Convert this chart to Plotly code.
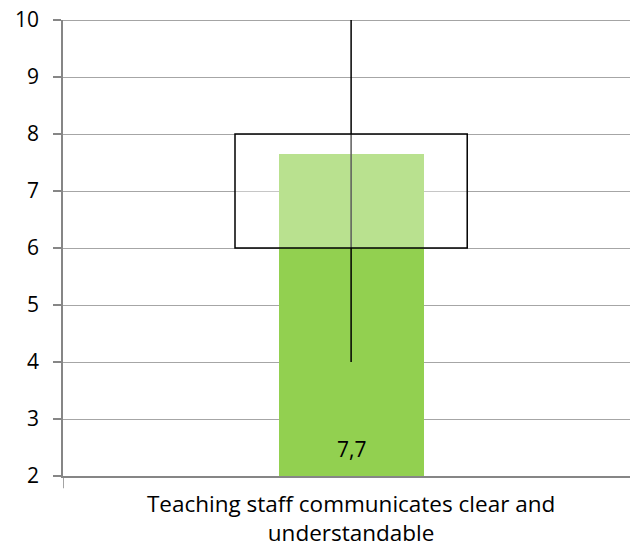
import plotly.graph_objects as go

categories = ["Teaching staff communicates clear and<br>understandable"]
mean_values = [7.65]
mean_labels = ["7,7"]
q1_values = [6]
q3_values = [8]
min_values = [4]
max_values = [10]

bar_width = 0.252
box_width = 0.403
FONT = "Open Sans"

fig = go.Figure()

fig.add_trace(go.Bar(
    x=[0], y=[v - 2 for v in mean_values], base=2, width=bar_width,
    marker=dict(color="#92D050", line=dict(width=0)),
    hoverinfo="skip", showlegend=False,
))

fig.add_trace(go.Scatter(
    x=[0, 0], y=[min_values[0], max_values[0]], mode="lines",
    line=dict(color="#000000", width=1.5), showlegend=False, hoverinfo="skip",
    cliponaxis=False,
))

fig.add_shape(type="rect", xref="x", yref="y",
              x0=-box_width / 2, x1=box_width / 2,
              y0=q1_values[0], y1=q3_values[0],
              fillcolor="rgba(255,255,255,0.36)",
              line=dict(color="#000000", width=1.5), layer="above")

fig.add_annotation(x=0, y=2, xref="x", yref="y", text=mean_labels[0],
                   showarrow=False, yanchor="bottom", yshift=11,
                   font=dict(family=FONT, size=21, color="#000000"))

fig.update_layout(
    width=630, height=558,
    margin=dict(l=63, r=0, t=20, b=82),
    paper_bgcolor="white", plot_bgcolor="white",
    font=dict(family=FONT, size=21, color="#000000"),
    xaxis=dict(range=[-0.5, 0.484], tickvals=[0], ticktext=categories,
               showgrid=False, zeroline=False,
               showline=True, linecolor="#868686", linewidth=1.5,
               ticks="", tickfont=dict(size=22.5), ticklabelstandoff=7),
    yaxis=dict(range=[2, 10], dtick=1, tick0=2,
               showgrid=True, gridcolor="#A6A6A6", gridwidth=1.2,
               showline=True, linecolor="#868686", linewidth=1.5,
               ticks="outside", ticklen=8, tickcolor="#868686", tickwidth=1.5,
               zeroline=False, tickfont=dict(size=21), ticklabelstandoff=10,
               ticklabeloverflow="allow"),
    bargap=0,
)

fig.add_shape(type="line", xref="x", yref="paper", x0=-0.5, x1=-0.5,
              y0=0, y1=-0.027, line=dict(color="#868686", width=1.5))
fig.add_shape(type="line", xref="paper", yref="y", x0=0, x1=1,
              y0=max_values[0], y1=max_values[0],
              line=dict(color="#868686", width=1.5), layer="below")

fig.write_html("out.html", config={"displayModeBar": False},
               post_script="document.body.style.margin='0';")
